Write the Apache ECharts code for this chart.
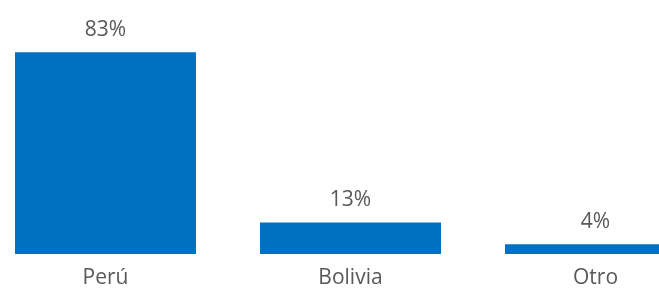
<!DOCTYPE html>
<html>
<head>
<meta charset="utf-8">
<script src="https://cdn.jsdelivr.net/npm/echarts@6/dist/echarts.min.js"></script>
<style>
  html, body { margin: 0; padding: 0; background: #fff; }
  #chart { width: 659px; height: 288px; }
</style>
</head>
<body>
<div id="chart"></div>
<script>
var paises = ['Perú', 'Bolivia', 'Otro'];
var porcentajes = [83, 13, 4];

var chart = echarts.init(document.getElementById('chart'));
var option = {
  animation: false,
  grid: {
    top: 11,
    bottom: 34,
    left: -17,
    right: -59,
    containLabel: false,
    outerBoundsMode: 'none'
  },
  xAxis: {
    type: 'category',
    data: paises,
    axisLine: { show: false },
    axisTick: { show: false },
    axisLabel: {
      margin: 14,
      fontSize: 21,
      fontFamily: 'Open Sans',
      color: '#595959'
    }
  },
  yAxis: {
    type: 'value',
    min: 0,
    max: 100,
    show: false
  },
  series: [{
    type: 'bar',
    data: porcentajes,
    barWidth: 181,
    itemStyle: { color: '#0070C0' },
    label: {
      show: true,
      position: 'top',
      distance: 12,
      formatter: '{c}%',
      fontSize: 21,
      fontFamily: 'Open Sans',
      color: '#595959'
    }
  }]
};
chart.setOption(option);
</script>
</body>
</html>
